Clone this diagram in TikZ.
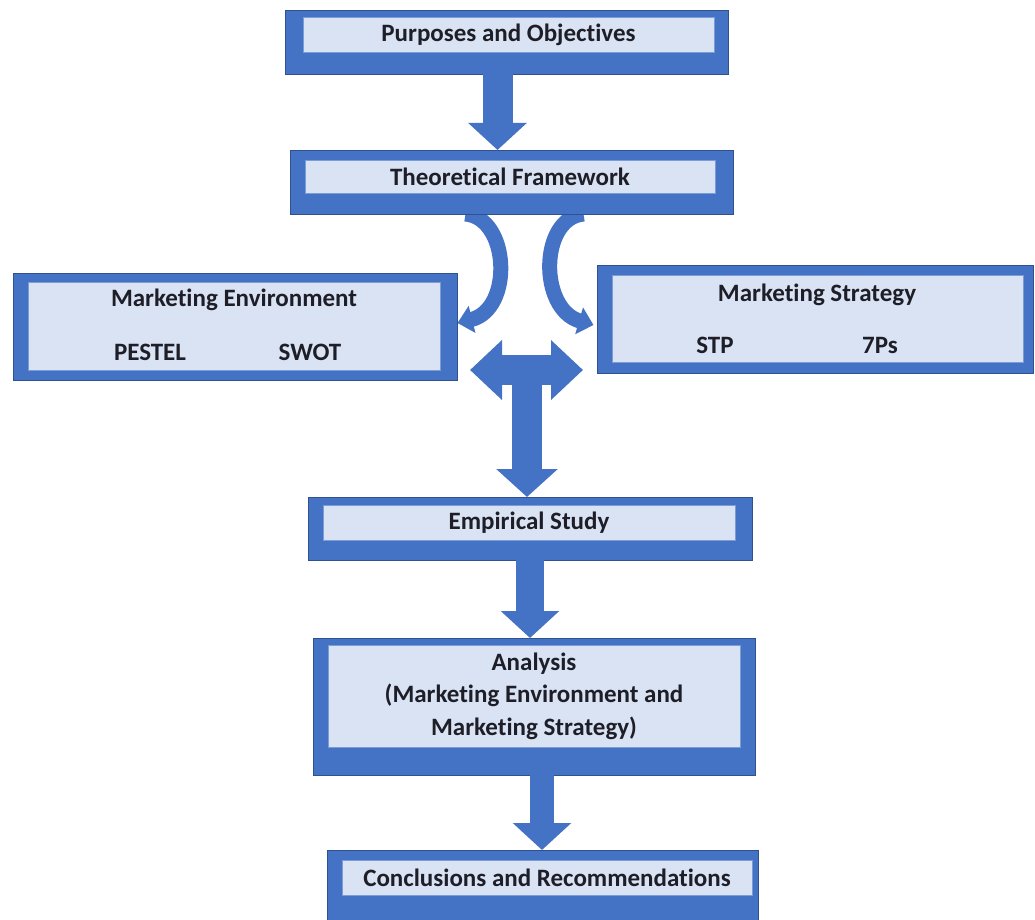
\documentclass[tikz,border=0pt]{standalone}
\usepackage{fontspec}
\setmainfont{Carlito}[Ligatures={NoCommon,NoRare}]
\usetikzlibrary{arrows.meta,positioning,backgrounds}
\definecolor{boxblue}{RGB}{68,114,196}
\definecolor{edgeblue}{RGB}{47,82,143}
\definecolor{paleblue}{RGB}{218,227,243}
\definecolor{inktext}{RGB}{30,30,40}
\tikzset{%
    outerbox/.style={draw=edgeblue, line width=0.8pt, fill=boxblue, inner sep=0pt, outer sep=0pt},
    innerbox/.style={draw=boxblue!70, line width=0.6pt, fill=paleblue, inner sep=0pt, outer sep=0pt,
        align=center, text=inktext, font=\bfseries\fontsize{25}{32.5}\selectfont},
    label/.style={inner sep=0pt, text=inktext, font=\bfseries\fontsize{25}{32.5}\selectfont},
    blockarrow/.style={draw=boxblue, line width=30pt, -{Triangle[width=57pt,length=27pt]}},
    curvearrow/.style={draw=boxblue, line width=15pt, -{Triangle[width=27pt,length=15pt]}}
}

\begin{document}
\begin{tikzpicture}[x=1pt, y=-1pt]
    \useasboundingbox (0,0) rectangle (1035,920);
    % boxes
    \node[outerbox, minimum width=443pt, minimum height=64pt] (purp) at (506.5,42) {};
    \node[innerbox, minimum width=411pt, minimum height=35pt] (purp-in) at (508.5,34.5) {Purposes and Objectives};

    \node[outerbox, minimum width=443pt, minimum height=64pt] (theo) at (511.5,182) {};
    \node[innerbox, minimum width=410pt, minimum height=33pt] (theo-in) at (510,176.5) {Theoretical Framework};

    \node[outerbox, minimum width=444pt, minimum height=107pt] (env) at (235,326.5) {};
    \node[innerbox, minimum width=412pt, minimum height=88pt] (env-in) at (234,326) {};
    \node[label] (env-title) at (234,300) {Marketing Environment};
    \node[label] (pestel) at (150,352) {PESTEL};
    \node[label] (swot) at (310,352) {SWOT};

    \node[outerbox, minimum width=436pt, minimum height=108pt] (strat) at (815,319) {};
    \node[innerbox, minimum width=411pt, minimum height=87pt] (strat-in) at (817.5,318.5) {};
    \node[label] (strat-title) at (817,295) {Marketing Strategy};
    \node[label] (stp) at (715,345) {STP};
    \node[label] (sevenps) at (880,345) {7Ps};

    \node[outerbox, minimum width=444pt, minimum height=63pt] (emp) at (530,528.5) {};
    \node[innerbox, minimum width=412pt, minimum height=35pt] (emp-in) at (529,522.5) {Empirical Study};

    \node[outerbox, minimum width=442pt, minimum height=137pt] (ana) at (534,706.5) {};
    \node[innerbox, minimum width=412pt, minimum height=102pt] (ana-in) at (534,696) {Analysis\\(Marketing Environment and\\Marketing Strategy)};

    \node[outerbox, minimum width=431pt, minimum height=80pt] (concl) at (542.5,890) {};
    \node[innerbox, minimum width=410pt, minimum height=35pt] (concl-in) at (547,877.5) {Conclusions and Recommendations};

    % arrows
    \draw[blockarrow] ([xshift=-9pt]purp.south) -- ([xshift=-9pt]purp.south |- theo.north);
    \begin{scope}[on background layer]
        \draw[curvearrow] ([xshift=-46pt]theo.south) .. controls +(44,4) and +(56,-14) .. ([xshift=0.5pt,yshift=3.5pt]env.east);
        \draw[curvearrow] ([xshift=72pt]theo.south) .. controls +(-44,4) and +(-55,-16) .. ([xshift=-3.5pt,yshift=-6pt]strat.west);
    \end{scope}
    \coordinate (hub) at (527,370);
    \draw[blockarrow, {Triangle[width=58pt,length=32pt]}-{Triangle[width=58pt,length=32pt]}]
        ([xshift=13pt]env.east |- hub) -- ([xshift=-14pt]strat.west |- hub);
    \draw[blockarrow, -{Triangle[width=60pt,length=28pt]}] (hub) -- (hub |- emp.north);
    \draw[blockarrow, line width=28pt] (emp.south) -- (emp.south |- ana.north);
    \draw[blockarrow, line width=24pt] ([xshift=8pt]ana.south) -- ([xshift=8pt]ana.south |- concl.north);
\end{tikzpicture}
\end{document}
